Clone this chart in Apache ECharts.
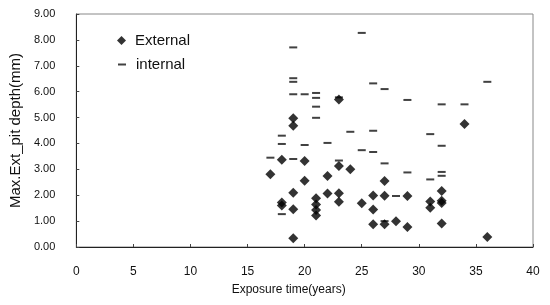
<!DOCTYPE html>
<html>
<head>
<meta charset="utf-8">
<script src="https://cdn.jsdelivr.net/npm/echarts@6/dist/echarts.min.js"></script>
<style>
  html, body { margin: 0; padding: 0; background: #fff; }
  #chart { width: 550px; height: 305px; }
</style>
</head>
<body>
<div id="chart"></div>
<script>
// 외부 부식 (External) : [years, depth mm]
const externalPits = [
  [17, 2.81], [18, 3.37], [18, 1.72], [18, 1.60],
  [19, 4.97], [19, 4.68], [19, 2.10], [19, 1.46], [19, 0.34],
  [20, 3.32], [20, 2.56],
  [21, 1.88], [21, 1.64], [21, 1.43], [21, 1.22],
  [22, 2.74], [22, 2.07],
  [23, 5.70], [23, 3.13], [23, 2.08], [23, 1.75],
  [24, 3.00], [25, 1.69],
  [26, 1.99], [26, 1.45], [26, 0.88],
  [27, 2.55], [27, 1.98], [27, 0.88],
  [28, 0.99], [29, 1.97], [29, 0.77],
  [31, 1.76], [31, 1.52],
  [32, 2.16], [32, 1.79], [32, 1.70], [32, 0.91],
  [34, 4.75], [36, 0.39]
];
// 내부 부식 (internal)
const internalPits = [
  [17, 3.45], [18, 4.30], [18, 3.98], [18, 1.27],
  [19, 7.71], [19, 6.52], [19, 6.38], [19, 5.90], [19, 3.40],
  [20, 5.90], [20, 3.94],
  [21, 5.95], [21, 5.76], [21, 5.42], [21, 4.99],
  [22, 4.02], [23, 5.78], [23, 3.34],
  [24, 4.45], [25, 8.27], [25, 3.74],
  [26, 6.32], [26, 4.49], [26, 3.67],
  [27, 6.10], [27, 3.23], [27, 1.00],
  [28, 1.97], [29, 5.68], [29, 2.88],
  [31, 4.36], [31, 2.61],
  [32, 5.51], [32, 3.91], [32, 2.90], [32, 2.75],
  [34, 5.51], [36, 6.38]
];
const xTicks = { min: 0, max: 40, step: 5 };
const yTicks = { min: 0, max: 9, step: 1 };

const chart = echarts.init(document.getElementById('chart'));
const font = 'Liberation Sans, Arial, sans-serif';

chart.setOption({
  animation: false,
  grid: {
    left: 74, right: 17, top: 14, bottom: 58,
    show: true,
    borderColor: '#888',
    borderWidth: 1
  },
  legend: [
    {
      data: ['External'],
      icon: 'diamond',
      left: 112, top: 28,
      itemWidth: 9, itemHeight: 9,
      textStyle: { fontFamily: font, fontSize: 15, color: '#111', padding: [0, 0, 0, 4] }
    },
    {
      data: ['internal'],
      icon: 'rect',
      left: 113, top: 52,
      itemWidth: 8, itemHeight: 2,
      textStyle: { fontFamily: font, fontSize: 15, color: '#111', padding: [0, 0, 0, 5] }
    }
  ],
  xAxis: {
    type: 'value',
    min: xTicks.min, max: xTicks.max, interval: xTicks.step,
    name: 'Exposure time(years)',
    nameLocation: 'middle',
    nameGap: 37,
    nameTextStyle: { fontFamily: font, fontSize: 12, color: '#111', padding: [0, 32, 0, 0] },
    axisLine: { lineStyle: { color: '#222', width: 1 } },
    axisTick: { show: true, inside: true, length: 3, lineStyle: { color: '#444' } },
    axisLabel: { fontFamily: font, fontSize: 12, color: '#111', margin: 19 },
    splitLine: { show: false }
  },
  yAxis: {
    type: 'value',
    min: yTicks.min, max: yTicks.max, interval: yTicks.step,
    name: 'Max.Ext_pit depth(mm)',
    nameLocation: 'middle',
    nameGap: 49,
    nameTextStyle: { fontFamily: font, fontSize: 15, color: '#111' },
    axisLine: { show: true, lineStyle: { color: '#222', width: 1 } },
    axisTick: { show: true, inside: true, length: 3, lineStyle: { color: '#444' } },
    axisLabel: {
      fontFamily: font, fontSize: 11, color: '#111', margin: 21,
      formatter: v => v.toFixed(2)
    },
    splitLine: { show: false }
  },
  series: [
    {
      name: 'External',
      type: 'scatter',
      symbol: 'diamond',
      symbolSize: 10,
      itemStyle: { color: '#000' },
      data: externalPits,
      z: 3
    },
    {
      name: 'internal',
      type: 'scatter',
      symbol: 'rect',
      symbolSize: [8, 2],
      itemStyle: { color: '#111' },
      data: internalPits,
      z: 2
    }
  ]
});
</script>
</body>
</html>
